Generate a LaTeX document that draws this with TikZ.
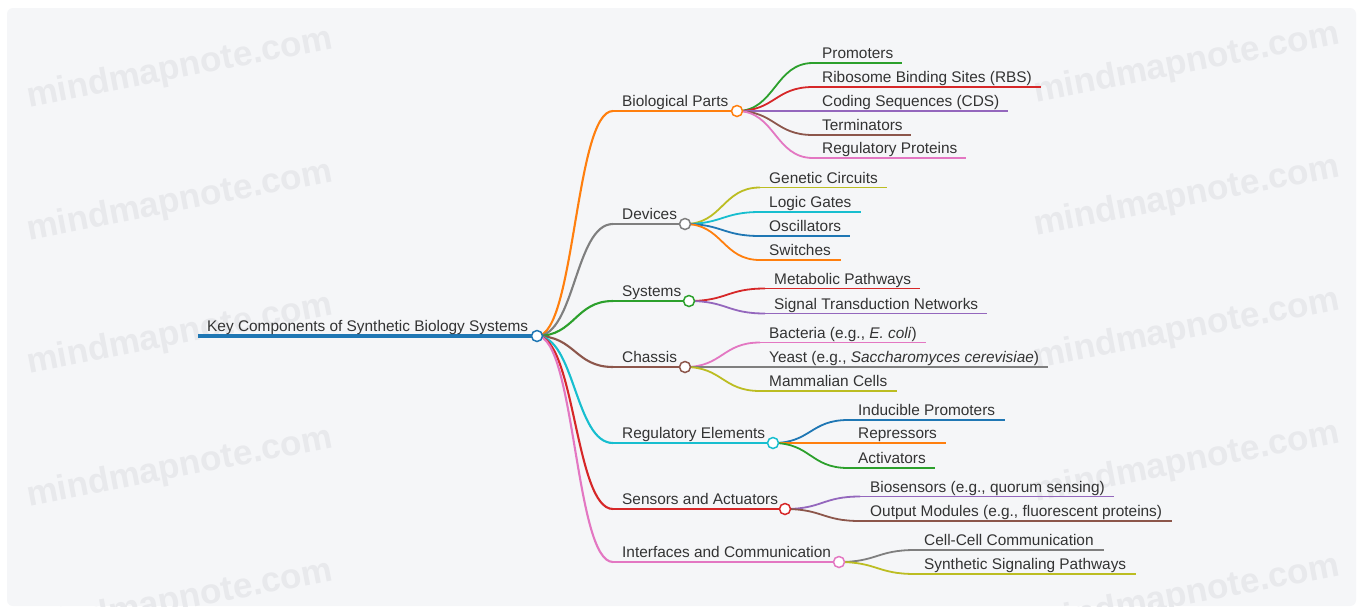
\documentclass[tikz,border=0pt]{standalone}
\usepackage{fontspec}
\setmainfont{Liberation Sans}
\usetikzlibrary{calc}
\definecolor{bgc}{HTML}{F5F6F8}
\definecolor{wmc}{HTML}{E8E9EC}
\definecolor{txt}{HTML}{333333}
\definecolor{cblue}{HTML}{1F77B4}
\definecolor{corange}{HTML}{FF7F0E}
\definecolor{cgreen}{HTML}{2CA02C}
\definecolor{cred}{HTML}{D62728}
\definecolor{cpurple}{HTML}{9467BD}
\definecolor{cbrown}{HTML}{8C564B}
\definecolor{cpink}{HTML}{E377C2}
\definecolor{cgrey}{HTML}{7F7F7F}
\definecolor{colive}{HTML}{BCBD22}
\definecolor{ccyan}{HTML}{17BECF}
\newcommand{\mmcurve}[3]{%
  \path ($(#2)!0.5!(#3)$) coordinate (mmmid);
  \draw[#1] (#2) .. controls (mmmid |- #2) and (mmmid |- #3) .. (#3);}
\tikzset{
  lbl/.style={anchor=base west, inner sep=0pt, text=txt, font=\fontsize{15.4}{18}\selectfont},
  rootline/.style={line width=3.4pt, cblue},
  l1line/.style={line width=2.1pt, #1},
  leafline/.style={line width=1.8pt, #1},
  knob/.style={circle, draw=#1, fill=white, line width=1.5pt, minimum size=11pt, inner sep=0pt},
  wmark/.style={text=wmc, rotate=11, font=\fontsize{35}{38}\selectfont\bfseries}
}
\begin{document}
\begin{tikzpicture}[x=1pt,y=-1pt]
\useasboundingbox (0,0) rectangle (1361,606);
\fill[white] (0,0) rectangle (1361,606);
\fill[bgc, rounded corners=6pt] (7,8) rectangle (1356,606);
\begin{scope}
\clip[rounded corners=6pt] (7,8) rectangle (1356,606);
\foreach \yy [count=\i] in {69,202,335,468,601}{
  \node[wmark] (wl\i) at (180,\yy) {mindmapnote.com};
  \node[wmark] (wr\i) at (1187,\yy-5) {mindmapnote.com};
}
\end{scope}

% ---------- root ----------
\coordinate (root-s) at (198,336);
\coordinate (root) at (537,336);
\draw[rootline] (root-s) -- (root);
\node[lbl] (root-t) at (207,331) {Key Components of Synthetic Biology Systems};

% ---------- level 1 coordinates ----------
\coordinate (bp-s)  at (613,111); \coordinate (bp)  at (737,111);
\coordinate (dev-s) at (613,224); \coordinate (dev) at (685,224);
\coordinate (sys-s) at (613,301); \coordinate (sys) at (689,301);
\coordinate (cha-s) at (613,367); \coordinate (cha) at (685,367);
\coordinate (reg-s) at (613,443); \coordinate (reg) at (773,443);
\coordinate (sen-s) at (613,509); \coordinate (sen) at (785,509);
\coordinate (int-s) at (613,562); \coordinate (int) at (839,562);

% ---------- leaf coordinates ----------
\coordinate (p1-s) at (813,63);  \coordinate (p1-e) at (902,63);
\coordinate (p2-s) at (813,87);  \coordinate (p2-e) at (1041,87);
\coordinate (p3-s) at (813,111); \coordinate (p3-e) at (1008,111);
\coordinate (p4-s) at (813,135); \coordinate (p4-e) at (911,135);
\coordinate (p5-s) at (813,158); \coordinate (p5-e) at (966,158);
\coordinate (d1-s) at (760,187.5); \coordinate (d1-e) at (887,187.5);
\coordinate (d2-s) at (760,212);   \coordinate (d2-e) at (861,212);
\coordinate (d3-s) at (760,236);   \coordinate (d3-e) at (850,236);
\coordinate (d4-s) at (760,260);   \coordinate (d4-e) at (841,260);
\coordinate (s1-s) at (765,288.5); \coordinate (s1-e) at (920,288.5);
\coordinate (s2-s) at (765,313.5); \coordinate (s2-e) at (987,313.5);
\coordinate (c1-s) at (760,342.5); \coordinate (c1-e) at (926,342.5);
\coordinate (c2-s) at (760,367);   \coordinate (c2-e) at (1048,367);
\coordinate (c3-s) at (760,391);   \coordinate (c3-e) at (897,391);
\coordinate (r1-s) at (848,420); \coordinate (r1-e) at (1005,420);
\coordinate (r2-s) at (848,443); \coordinate (r2-e) at (946,443);
\coordinate (r3-s) at (848,468); \coordinate (r3-e) at (935,468);
\coordinate (a1-s) at (860,496.5); \coordinate (a1-e) at (1114,496.5);
\coordinate (a2-s) at (860,521);   \coordinate (a2-e) at (1172,521);
\coordinate (i1-s) at (915,550); \coordinate (i1-e) at (1104,550);
\coordinate (i2-s) at (915,574); \coordinate (i2-e) at (1136,574);

% ---------- leaf curves and lines ----------
\foreach \pn/\lf/\col in {bp/p1/cgreen, bp/p2/cred, bp/p3/cpurple, bp/p4/cbrown, bp/p5/cpink,
  dev/d1/colive, dev/d2/ccyan, dev/d3/cblue, dev/d4/corange,
  sys/s1/cred, sys/s2/cpurple,
  cha/c1/cpink, cha/c2/cgrey, cha/c3/colive,
  reg/r1/cblue, reg/r2/corange, reg/r3/cgreen,
  sen/a1/cpurple, sen/a2/cbrown,
  int/i1/cgrey, int/i2/colive}{
  \mmcurve{leafline=\col}{\pn}{\lf-s}
  \draw[leafline=\col] (\lf-s) -- (\lf-e);
}

% ---------- level 1 curves and lines ----------
\foreach \nd/\col in {bp/corange, dev/cgrey, sys/cgreen, cha/cbrown, reg/ccyan, sen/cred, int/cpink}{
  \mmcurve{l1line=\col}{root}{\nd-s}
  \draw[l1line=\col] (\nd-s) -- (\nd);
}

% ---------- knobs ----------
\node[knob=cblue] (root-k) at (root) {};
\foreach \nd/\col in {bp/corange, dev/cgrey, sys/cgreen, cha/cbrown, reg/ccyan, sen/cred, int/cpink}{
  \node[knob=\col] (\nd-k) at (\nd) {};
}

% ---------- labels ----------
\node[lbl] (bp-t)  at (622,106.5) {Biological Parts};
\node[lbl] (dev-t) at (622,219.5) {Devices};
\node[lbl] (sys-t) at (622,296.5) {Systems};
\node[lbl] (cha-t) at (622,362.5) {Chassis};
\node[lbl] (reg-t) at (622,438.5) {Regulatory Elements};
\node[lbl] (sen-t) at (622,504.5) {Sensors and Actuators};
\node[lbl] (int-t) at (622,557.5) {Interfaces and Communication};

\node[lbl] (p1-t) at (822,58.5)  {Promoters};
\node[lbl] (p2-t) at (822,82.5)  {Ribosome Binding Sites (RBS)};
\node[lbl] (p3-t) at (822,106.5) {Coding Sequences (CDS)};
\node[lbl] (p4-t) at (822,130.5) {Terminators};
\node[lbl] (p5-t) at (822,153.5) {Regulatory Proteins};

\node[lbl] (d1-t) at (769,183)   {Genetic Circuits};
\node[lbl] (d2-t) at (769,207.5) {Logic Gates};
\node[lbl] (d3-t) at (769,231.5) {Oscillators};
\node[lbl] (d4-t) at (769,255.5) {Switches};

\node[lbl] (s1-t) at (774,284)   {Metabolic Pathways};
\node[lbl] (s2-t) at (774,309)   {Signal Transduction Networks};

\node[lbl] (c1-t) at (769,338)   {Bacteria (e.g., \textit{E. coli})};
\node[lbl] (c2-t) at (769,362.5) {Yeast (e.g., \textit{Saccharomyces cerevisiae})};
\node[lbl] (c3-t) at (769,386.5) {Mammalian Cells};

\node[lbl] (r1-t) at (858,415.5) {Inducible Promoters};
\node[lbl] (r2-t) at (858,438.5) {Repressors};
\node[lbl] (r3-t) at (858,463.5) {Activators};

\node[lbl] (a1-t) at (870,492)   {Biosensors (e.g., quorum sensing)};
\node[lbl] (a2-t) at (870,516.5) {Output Modules (e.g., fluorescent proteins)};

\node[lbl] (i1-t) at (924,545.5) {Cell-Cell Communication};
\node[lbl] (i2-t) at (924,569.5) {Synthetic Signaling Pathways};
\end{tikzpicture}
\end{document}
